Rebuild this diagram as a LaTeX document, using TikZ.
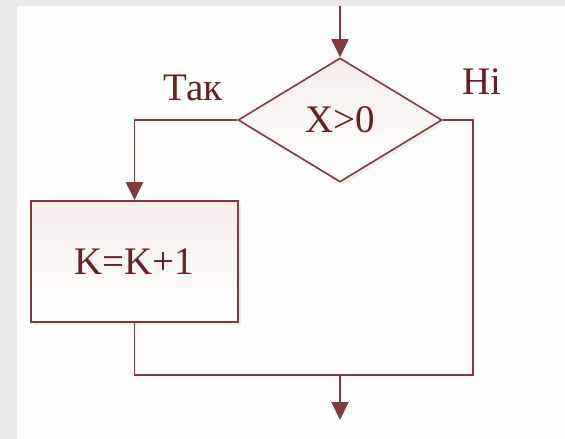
\documentclass[tikz,border=0pt]{standalone}
\usepackage{fontspec}
\setmainfont{Liberation Serif}
\newfontfamily\serf{Liberation Serif}
\usetikzlibrary{shapes.geometric,arrows.meta,shadows}
\definecolor{ln}{RGB}{130,58,58}
\definecolor{tx}{RGB}{105,32,32}
\definecolor{bg}{RGB}{234,234,234}
\definecolor{panel}{RGB}{253,253,253}
\definecolor{fillt}{RGB}{245,236,236}
\begin{document}
\begin{tikzpicture}[x=1pt,y=-1pt,
  conn/.style={draw=ln,line width=1.9pt},
  arr/.style={conn,-{Triangle[width=17pt,length=18pt]}},
  txt/.style={text=tx,font=\serf\fontsize{39}{42}\selectfont},
  lbl/.style={txt,inner sep=0pt},
  softshadow/.style={drop shadow={shadow xshift=3pt,shadow yshift=-3pt,opacity=0.12,fill=gray}},
  decision/.style={diamond,draw=ln,line width=1.6pt,minimum width=204pt,minimum height=124pt,
    inner sep=0pt,top color=fillt,bottom color=white,txt,softshadow},
  proc/.style={rectangle,draw=ln,line width=1.6pt,minimum width=207pt,minimum height=121pt,
    inner sep=0pt,top color=fillt,bottom color=white,txt,softshadow}]
\useasboundingbox (0,0) rectangle (565,439);
\fill[bg] (0,0) rectangle (565,439);
\fill[panel] (17,6) rectangle (565,439);
\node[decision] (d) at (340,120) {X>0};
\node[proc] (b) at (134.5,261.5) {K=K+1};
\node[lbl,anchor=base] (yes) at (193,100) {Так};
\node[lbl,anchor=base] (no) at (482,94) {Ні};
\coordinate (top) at (340,6);
\coordinate (jr) at (473,375);
\coordinate (jm) at (340,375);
\coordinate (end) at (340,420);
\draw[arr] (top) -- (d.north);
\draw[arr] (d.west) -| (b.north);
\draw[conn] (b.south) |- (jr) |- (d.east);
\draw[arr] (jm) -- (end);
\end{tikzpicture}
\end{document}
